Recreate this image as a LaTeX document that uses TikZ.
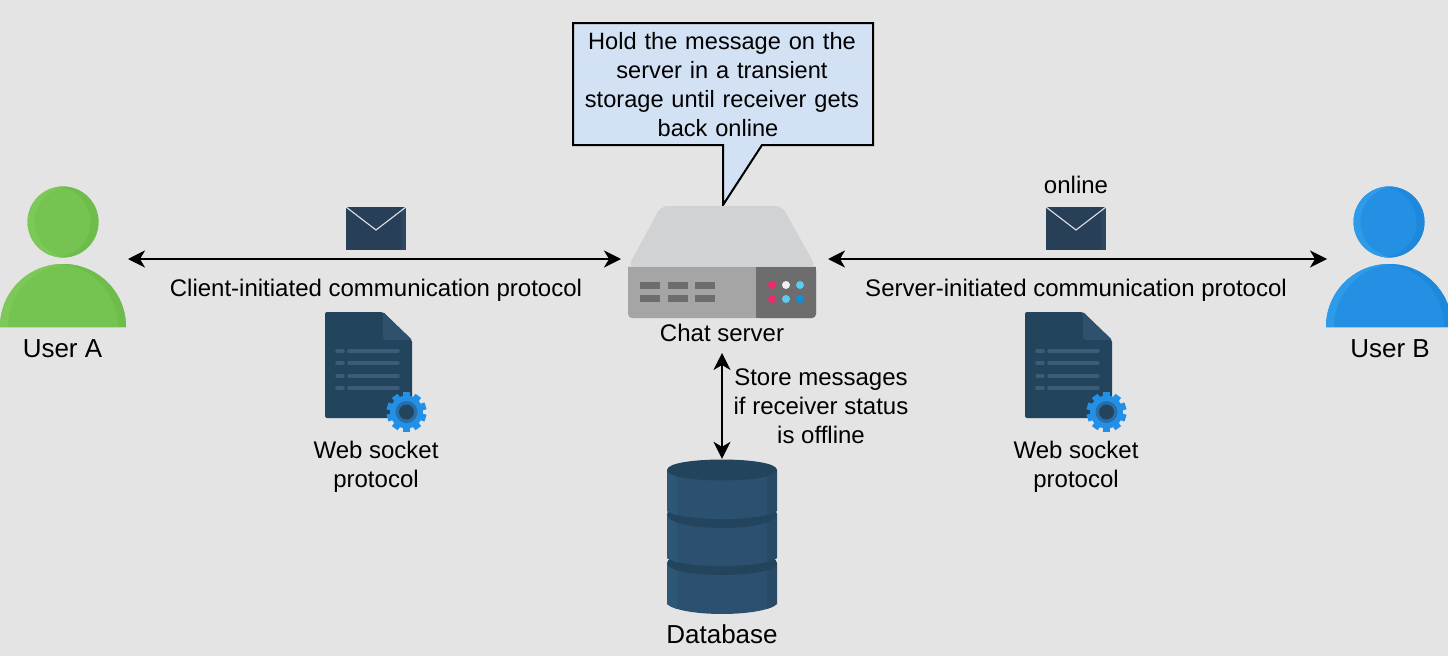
\documentclass[tikz,border=0pt]{standalone}
\usepackage{fontspec}
\setmainfont{Liberation Sans}
\usetikzlibrary{arrows.meta}
\definecolor{bgc}{HTML}{E4E4E4}
\definecolor{navy}{HTML}{23445D}
\definecolor{ring}{HTML}{2A6EA8}
\definecolor{cyl}{HTML}{2C5170}
\definecolor{cyll}{HTML}{2E5675}
\definecolor{cyld}{HTML}{284A66}
\definecolor{calloutc}{HTML}{D2E1F3}
\definecolor{gtop}{HTML}{D0D2D3}
\definecolor{gfront}{HTML}{A5A5A5}
\definecolor{gdark}{HTML}{6D6D6D}
\definecolor{agreen}{HTML}{75C350}
\definecolor{agreenl}{HTML}{7CC95A}
\definecolor{agreend}{HTML}{6EBC4B}
\definecolor{bblue}{HTML}{2390E4}
\definecolor{bbluel}{HTML}{2E9BE8}
\definecolor{bblued}{HTML}{1F88DA}
\definecolor{gear}{HTML}{2390E8}
\definecolor{mailc}{HTML}{283F58}
\definecolor{mailr}{HTML}{2F4660}
\definecolor{lline}{HTML}{3C5D78}
\definecolor{foldc}{HTML}{30516D}
\definecolor{ledpink}{HTML}{F0286E}
\definecolor{ledwhite}{HTML}{EFEFEF}
\definecolor{ledcyan}{HTML}{5CCBF0}
\definecolor{ledblue}{HTML}{0F8FD8}
\tikzset{
 x=1pt,y=-1pt,
 lab/.style={font=\fontsize{24}{29}\selectfont,align=center,inner sep=0pt,text=black},
 biglab/.style={font=\fontsize{26}{29}\selectfont,align=center,inner sep=0pt,text=black},
 notelab/.style={font=\fontsize{23.6}{29}\selectfont,align=center,inner sep=0pt,text=black},
 link/.style={draw=black,line width=1.8pt,{Stealth[length=17pt,width=17pt,inset=5pt]}-{Stealth[length=17pt,width=17pt,inset=5pt]}},
 anchorpt/.style={inner sep=0pt,minimum size=0pt}
}
\newcommand{\mailicon}[3]{% x y name
 \fill[mailc] (#1,#2) rectangle ++(60,43);
 \fill[mailr] (#1+55,#2) rectangle ++(5,43);
 \draw[draw=white!85!mailc,line width=1.1pt] (#1,#2) -- ++(30,23) -- ++(30,-23);
 \node[anchorpt] (#3) at (#1+30,#2+21) {};
}
\newcommand{\doc}[2]{% x y at top-left
 \begin{scope}[shift={(#1,#2)}]
 \fill[navy,rounded corners=2pt] (0,0) -- (58,0) -- (87,28) -- (87,106) -- (0,106) -- cycle;
 \fill[foldc,rounded corners=1pt] (58,0) -- (87,28) -- (60,28) -- (58,26) -- cycle;
 \foreach \yy in {39,51,64,76}{
  \draw[lline,line width=3.5pt,line cap=round] (12,\yy) -- (18,\yy);
  \draw[lline,line width=3.5pt,line cap=round] (24,\yy) -- (73,\yy);
 }
 \fill[gear] (81.5,100) circle (16.5);
 \foreach \a in {0,36,...,324}{
  \fill[gear,rotate around={\a:(81.5,100)}] (78,80) rectangle (85,88);
 }
 \fill[ring] (81.5,100) circle (11);
 \fill[navy] (81.5,100) circle (7.5);
 \end{scope}
}
\newcommand{\bodypath}[1]{(-63+#1,327) .. controls (-63+#1,292) and (-35+#1,264) .. (#1,264) .. controls (35+#1,264) and (63+#1,292) .. (63+#1,327) -- cycle}
\newcommand{\person}[4]{% cx colour light dark
 \begin{scope}[shift={(#1,0)}]
 \fill[#2] (0,222) circle (35.5);
 \begin{scope}
  \clip (0,222) circle (35.5);
  \fill[#3,even odd rule] (-50,180) rectangle (50,265) (7,222) circle (35.5);
  \fill[#4,even odd rule] (-50,180) rectangle (50,265) (-8,222) circle (35.5);
 \end{scope}
 \fill[#2] \bodypath{0};
 \begin{scope}
  \clip \bodypath{0};
  \fill[#3,even odd rule] (-90,255) rectangle (90,335) \bodypath{8};
  \fill[#4,even odd rule] (-90,255) rectangle (90,335) \bodypath{-8};
 \end{scope}
 \end{scope}
}
\newcommand{\cylpath}[3]{(667,#1) -- (667,#2) .. controls (682,#3) and (762,#3) .. (777,#2) -- (777,#1) -- cycle}
\newcommand{\cylseg}[3]{% top y, side bottom y, centre bottom control
 \fill[cyl] \cylpath{#1}{#2}{#3};
 \begin{scope}
  \clip \cylpath{#1}{#2}{#3};
  \fill[cyll] (667,#1) rectangle (677,#3);
  \fill[cyld] (767,#1) rectangle (777,#3);
 \end{scope}
}
\newcommand{\cyltop}[2]{%
 \fill[navy] (667,#1) .. controls (667,#1-#2) and (777,#1-#2) .. (777,#1) .. controls (777,#1+#2) and (667,#1+#2) .. (667,#1) -- cycle;
}
\begin{document}
\begin{tikzpicture}
\useasboundingbox (0,0) rectangle (1448,656);
\fill[bgc] (0,0) rectangle (1448,656);

% callout
\draw[fill=calloutc,draw=black,line width=2pt] (573,23) -- (873,23) -- (873,145) -- (762,145) -- (723,205) -- (723,145) -- (573,145) -- cycle;
\node[notelab,text width=298pt] (note) at (722,85) {Hold the message on the\\server in a transient\\storage until receiver gets\\back online\hspace*{8pt}};

% server
\fill[gtop,rounded corners=7pt] (628,267) -- (661,206) -- (782,206) -- (816,267) -- cycle;
\fill[gtop] (628,266) rectangle (816,270);
\fill[gfront,rounded corners=4pt] (628,267) rectangle (816,318);
\fill[gfront] (628,267) rectangle (816,275);
\fill[gdark,rounded corners=4pt] (756,267) rectangle (816,318);
\fill[gdark] (756,267) rectangle (766,318);
\fill[gdark] (756,267) rectangle (816,275);
\foreach \xx in {640,668,695}{
 \fill[gdark] (\xx,282) rectangle ++(20,7);
 \fill[gdark] (\xx,295) rectangle ++(20,7);
}
\fill[ledpink] (772,285) circle (4);
\fill[ledwhite] (786,285) circle (4);
\fill[ledcyan] (800,285) circle (4);
\fill[ledpink] (772,299) circle (4);
\fill[ledcyan] (786,299) circle (4);
\fill[ledblue] (800,299) circle (4);
\node[anchorpt] (server) at (722,262) {};
\node[lab] (serverlab) at (722,333) {Chat server};
\coordinate (srvL) at (621,259);
\coordinate (srvR) at (828,259);
\coordinate (srvB) at (722,353);

% users
\person{63}{agreen}{agreenl}{agreend}
\person{1389}{bblue}{bbluel}{bblued}
\node[biglab] (ua) at (62.5,349) {User A};
\node[biglab] (ub) at (1390,349) {User B};
\coordinate (uaR) at (128,259);
\coordinate (ubL) at (1327,259);

% mails
\mailicon{346}{207}{mA}
\mailicon{1046}{207}{mB}
\node[lab] (on) at (1076,185) {online};

% protocols
\node[lab] (cli) at (376,290) {Client-initiated communication protocol};
\node[lab] (srv) at (1076,290) {Server-initiated communication protocol};
\doc{325}{312}
\doc{1025}{312}
\node[lab] (wa) at (376,467) {Web socket\\protocol};
\node[lab] (wb) at (1076,467) {Web socket\\protocol};

% store
\node[lab] (st) at (821,406.5) {Store messages\\if receiver status\\is offline};

% database
\cylseg{563}{604}{617.3}
\cyltop{563}{16}
\cylseg{514}{558}{568.7}
\cyltop{514}{18.7}
\cylseg{470}{511}{521.7}
\cyltop{470}{14}
\node[anchorpt] (db) at (722,459) {};
\node[biglab] (dbl) at (722,634) {Database};

% links
\draw[link] (uaR) -- (srvL);
\draw[link] (srvR) -- (ubL);
\draw[link] (srvB) -- (db);
\end{tikzpicture}
\end{document}
